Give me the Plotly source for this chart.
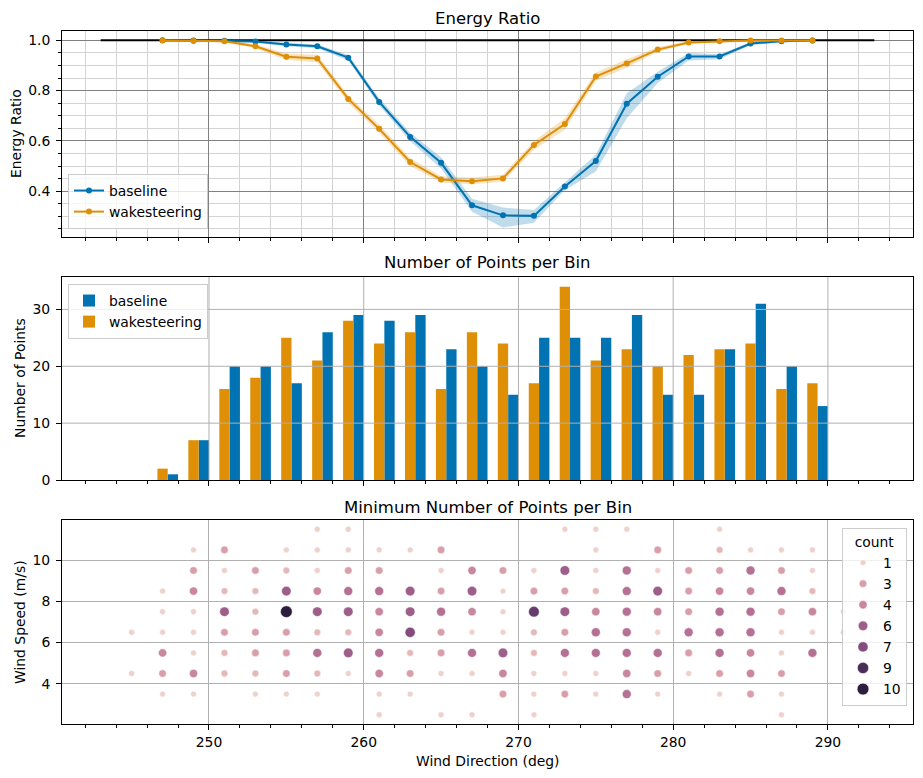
import numpy as np
import plotly.graph_objects as go
from plotly.subplots import make_subplots

# ---------------- data ----------------
wind_dir = list(range(247, 290, 2))

baseline_ratio = [1.000, 0.999, 0.998, 0.995, 0.983, 0.976, 0.931, 0.755, 0.616, 0.513, 0.344,
                  0.304, 0.302, 0.419, 0.520, 0.748, 0.855, 0.936, 0.936, 0.987, 0.996, 0.999]
baseline_lo = [0.997, 0.996, 0.995, 0.990, 0.976, 0.968, 0.920, 0.742, 0.600, 0.490, 0.318,
               0.256, 0.275, 0.405, 0.478, 0.690, 0.830, 0.920, 0.925, 0.980, 0.993, 0.997]
baseline_hi = [1.000, 1.000, 1.000, 1.000, 0.990, 0.983, 0.942, 0.770, 0.632, 0.535, 0.370,
               0.335, 0.325, 0.435, 0.545, 0.790, 0.875, 0.950, 0.945, 0.992, 0.999, 1.000]

wake_ratio = [0.999, 0.997, 0.996, 0.976, 0.935, 0.928, 0.767, 0.648, 0.516, 0.447, 0.440,
              0.451, 0.584, 0.667, 0.856, 0.908, 0.963, 0.991, 0.996, 0.999, 0.999, 0.999]
wake_lo = [0.997, 0.995, 0.993, 0.968, 0.922, 0.913, 0.752, 0.632, 0.500, 0.435, 0.428,
           0.438, 0.565, 0.645, 0.838, 0.892, 0.955, 0.985, 0.993, 0.997, 0.997, 0.997]
wake_hi = [1.000, 1.000, 1.000, 0.984, 0.948, 0.943, 0.782, 0.664, 0.532, 0.460, 0.455,
           0.465, 0.600, 0.690, 0.872, 0.925, 0.972, 0.997, 1.000, 1.000, 1.000, 1.000]

ref_x = [243, 293]
ref_y = [1.0, 1.0]

baseline_counts = [1, 7, 20, 20, 17, 26, 29, 28, 29, 23, 20, 15, 25, 25, 25, 29, 15, 15, 23, 31, 20, 13]
wake_counts = [2, 7, 16, 18, 25, 21, 28, 24, 26, 16, 26, 24, 17, 34, 21, 23, 20, 22, 23, 24, 16, 17]

scatter_wd = list(range(245, 292, 2))
scatter_ws = [11.5, 10.5, 9.5, 8.5, 7.5, 6.5, 5.5, 4.5, 3.5, 2.5]
# rows follow scatter_ws, columns follow scatter_wd (0 = no point)
count_grid = [
    [0, 0, 0, 0, 0, 0, 1, 1, 0, 0, 0, 0, 0, 0, 1, 1, 1, 0, 0, 1, 0, 0, 0, 0],
    [0, 0, 1, 3, 0, 1, 1, 1, 1, 1, 3, 0, 0, 0, 0, 1, 0, 3, 0, 2, 1, 1, 1, 0],
    [0, 0, 3, 1, 3, 2, 1, 3, 3, 0, 1, 4, 3, 1, 6, 1, 5, 1, 3, 3, 5, 3, 1, 0],
    [0, 1, 4, 2, 2, 6, 4, 5, 5, 6, 3, 6, 1, 3, 3, 2, 5, 6, 3, 4, 4, 5, 2, 0],
    [0, 1, 1, 6, 2, 10, 6, 6, 4, 6, 5, 4, 1, 8, 6, 4, 5, 4, 3, 5, 5, 3, 4, 1],
    [1, 1, 1, 3, 3, 3, 2, 2, 4, 7, 3, 1, 1, 2, 3, 5, 5, 1, 5, 5, 5, 1, 1, 1],
    [0, 4, 1, 2, 3, 3, 5, 6, 5, 2, 3, 5, 6, 2, 5, 5, 5, 5, 3, 5, 4, 1, 5, 0],
    [1, 3, 4, 2, 2, 3, 2, 1, 4, 3, 1, 1, 4, 1, 1, 1, 4, 3, 1, 3, 4, 3, 0, 0],
    [0, 1, 1, 0, 1, 1, 1, 0, 1, 1, 0, 0, 3, 1, 3, 1, 5, 1, 0, 1, 3, 1, 0, 0],
    [0, 0, 0, 0, 0, 0, 0, 0, 1, 0, 1, 1, 0, 1, 0, 0, 0, 0, 0, 0, 0, 1, 0, 0],
]
count_legend_levels = [1, 3, 4, 6, 7, 9, 10]

x_ticks = [250, 260, 270, 280, 290]
bar_y_ticks = [0, 10, 20, 30]
ws_ticks = [4, 6, 8, 10]

# ---------------- styles ----------------
BLUE = '#0173b2'
ORANGE = '#de8f05'
FONT = 'DejaVu Sans'
FS = 13.9

all_counts = [c for row in count_grid for c in row if c > 0]
CMIN, CMAX = min(all_counts), max(all_counts)


def cube_color(c):
    t = (c - CMIN) / (CMAX - CMIN)
    x = 0.85 - 0.70 * t
    a = 0.8 * x * (1 - x) / 2
    phi = 2 * np.pi * (0.4 * x)
    r = x + a * (-0.14861 * np.cos(phi) + 1.78277 * np.sin(phi))
    g = x + a * (-0.29227 * np.cos(phi) - 0.90649 * np.sin(phi))
    b = x + a * (1.97294 * np.cos(phi))
    r, g, b = [int(round(255 * min(max(v, 0), 1))) for v in (r, g, b)]
    return f'rgb({r},{g},{b})'


def dot_size(c):
    t = (c - CMIN) / (CMAX - CMIN)
    area = 18 + 54 * t
    return float(np.sqrt(area) * 100 / 72)


# geometry: page body has an 8px margin, so the figure is offset by 8px
OFF = 8
W, H = 923 - OFF, 778 - OFF
ML, MR, MT, MB = 62 - OFF, 10, 31 - OFF, 778 - 724
PH = H - MT - MB
PW = W - ML - MR


def py(pix):  # reference pixel row -> paper y
    return (H - MB - (pix - OFF)) / PH


def px(pix):  # reference pixel column -> paper x
    return (pix - OFF - ML) / PW


fig = make_subplots(rows=3, cols=1, shared_xaxes=True)

# ---- top panel ----
fig.add_trace(go.Scatter(x=ref_x, y=ref_y, mode='lines', line=dict(color='black', width=2),
                         showlegend=False, hoverinfo='skip'), row=1, col=1)
for name, ratio, lo, hi, color, fill in [
    ('baseline', baseline_ratio, baseline_lo, baseline_hi, BLUE, 'rgba(1,115,178,0.25)'),
    ('wakesteering', wake_ratio, wake_lo, wake_hi, ORANGE, 'rgba(222,143,5,0.25)'),
]:
    fig.add_trace(go.Scatter(x=wind_dir, y=lo, mode='lines', line=dict(width=0, color=color),
                             showlegend=False, hoverinfo='skip'), row=1, col=1)
    fig.add_trace(go.Scatter(x=wind_dir, y=hi, mode='lines', line=dict(width=0, color=color),
                             fill='tonexty', fillcolor=fill, showlegend=False, hoverinfo='skip'),
                  row=1, col=1)
    fig.add_trace(go.Scatter(x=wind_dir, y=ratio, mode='lines+markers', name=name,
                             line=dict(color=color, width=2), marker=dict(size=6, color=color),
                             legend='legend'), row=1, col=1)

# ---- middle panel ----
fig.add_trace(go.Bar(x=wind_dir, y=baseline_counts, width=2 / 3, offset=1 / 3, name='baseline',
                     marker=dict(color=BLUE, line=dict(width=0)), legend='legend2'), row=2, col=1)
fig.add_trace(go.Bar(x=wind_dir, y=wake_counts, width=2 / 3, offset=-1 / 3, name='wakesteering',
                     marker=dict(color=ORANGE, line=dict(width=0)), legend='legend2'), row=2, col=1)

# ---- bottom panel ----
sx, sy, sc = [], [], []
for i, ws in enumerate(scatter_ws):
    for j, wd in enumerate(scatter_wd):
        c = count_grid[i][j]
        if c > 0:
            sx.append(wd)
            sy.append(ws)
            sc.append(c)
fig.add_trace(go.Scatter(x=sx, y=sy, mode='markers', showlegend=False,
                         marker=dict(size=[dot_size(c) for c in sc], color=[cube_color(c) for c in sc],
                                     line=dict(color='white', width=0.5), opacity=1)),
              row=3, col=1)
for v in count_legend_levels:
    fig.add_trace(go.Scatter(x=[None], y=[None], mode='markers', name=str(v), legend='legend3',
                             marker=dict(size=dot_size(v), color=cube_color(v),
                                         line=dict(color='white', width=0.5))),
                  row=3, col=1)

# ---- gridlines over bars (matplotlib draws grid above patches) ----
for xv in x_ticks:
    fig.add_shape(type='line', xref='x2', yref='y2 domain', x0=xv, x1=xv, y0=0, y1=1,
                  line=dict(color='#b0b0b0', width=1), layer='above')
for yv in bar_y_ticks[1:]:
    fig.add_shape(type='line', xref='x2 domain', yref='y2', x0=0, x1=1, y0=yv, y1=yv,
                  line=dict(color='#b0b0b0', width=1), layer='above')

axis_common = dict(showline=True, linecolor='black', linewidth=1, mirror=True, ticks='outside',
                   ticklen=5, tickwidth=1, tickcolor='black', zeroline=False,
                   tickfont=dict(family=FONT, size=FS, color='black'), ticklabelstandoff=3)

xr = [240.5, 295.5]
minor_x_top = dict(dtick=2, tick0=240, ticks='outside', ticklen=3, tickcolor='black',
                   showgrid=True, gridcolor='#d3d3d3', gridwidth=1)
minor_x = dict(dtick=2, tick0=240, ticks='outside', ticklen=3, tickcolor='black', showgrid=False)

legend_common = dict(bgcolor='rgba(255,255,255,0.8)', bordercolor='#cccccc', borderwidth=1,
                     font=dict(family=FONT, size=FS), traceorder='normal')

fig.update_layout(
    xaxis=dict(axis_common, range=xr, tickvals=x_ticks, showticklabels=False,
               showgrid=True, gridcolor='#808080', gridwidth=1, minor=minor_x_top),
    xaxis2=dict(axis_common, range=xr, tickvals=x_ticks, showticklabels=False,
                showgrid=False, minor=minor_x),
    xaxis3=dict(axis_common, range=xr, tickvals=x_ticks, showticklabels=True, ticklabelstandoff=0,
                showgrid=True, gridcolor='#b0b0b0', gridwidth=1, minor=minor_x),
    yaxis=dict(axis_common, domain=[py(237), py(31)], range=[0.218, 1.037], tick0=0, dtick=0.2,
               tickformat='.1f', showgrid=True, gridcolor='#808080', gridwidth=1,
               minor=dict(dtick=0.05, tick0=0, ticks='outside', ticklen=3, tickcolor='black',
                          showgrid=True, gridcolor='#d3d3d3', gridwidth=1)),
    yaxis2=dict(axis_common, domain=[py(480), py(277)], range=[0, 35.7], tickvals=bar_y_ticks,
                showgrid=False),
    yaxis3=dict(axis_common, domain=[py(724), py(520)], range=[2.05, 11.95], tickvals=ws_ticks,
                showgrid=True, gridcolor='#b0b0b0', gridwidth=1),
    barmode='overlay',
    width=W, height=H,
    margin=dict(l=ML, r=MR, t=MT, b=MB, autoexpand=False),
    paper_bgcolor='white', plot_bgcolor='white',
    font=dict(family=FONT, size=FS, color='black'),
    legend=dict(legend_common, x=px(68), y=py(229), xanchor='left', yanchor='bottom'),
    legend2=dict(legend_common, x=px(68), y=py(284), xanchor='left', yanchor='top'),
    legend3=dict(legend_common, x=px(907), y=py(528), xanchor='right', yanchor='top',
                 itemsizing='trace',
                 title=dict(text='count', side='top center', font=dict(family=FONT, size=FS))),
)

# titles and axis labels
annots = [
    dict(text='Energy Ratio', x=0.5, y=py(18), size=16.5),
    dict(text='Number of Points per Bin', x=0.5, y=py(263), size=16.5),
    dict(text='Minimum Number of Points per Bin', x=0.5, y=py(507), size=16.5),
    dict(text='Wind Direction (deg)', x=px(488), y=py(761), size=FS),
]
for a in annots:
    fig.add_annotation(text=a['text'], xref='paper', yref='paper', x=a['x'], y=a['y'],
                       xanchor='center', yanchor='middle', showarrow=False,
                       font=dict(family=FONT, size=a['size'], color='black'))
for text, xpix, ypix in [('Energy Ratio', 16, 134), ('Number of Points', 20, 378),
                         ('Wind Speed (m/s)', 20, 622)]:
    fig.add_annotation(text=text, xref='paper', yref='paper', x=px(xpix), y=py(ypix),
                       xanchor='center', yanchor='middle', textangle=-90, showarrow=False,
                       font=dict(family=FONT, size=FS, color='black'))

fig.write_html('out.html')
